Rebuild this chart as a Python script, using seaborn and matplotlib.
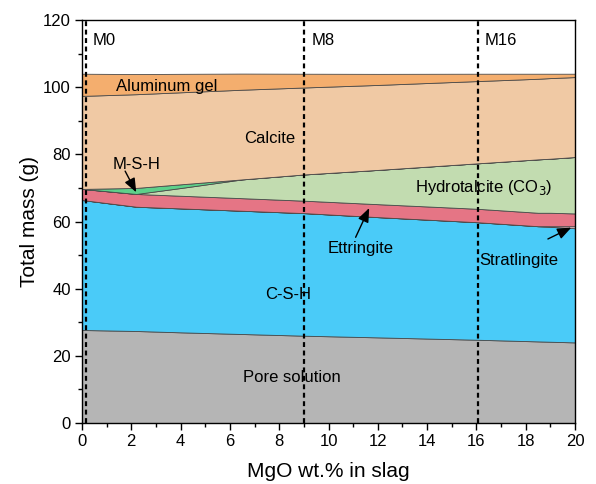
import matplotlib
matplotlib.use("Agg")
import matplotlib.pyplot as plt
import seaborn as sns
import numpy as np
from matplotlib.ticker import MultipleLocator

# ---- data ----
mgo = [0, 2.2, 4, 6.5, 9, 12, 16, 18.5, 19, 20]
pore_solution = [27.7, 27.4, 27.0, 26.5, 26.0, 25.5, 24.8, 24.3, 24.2, 24.0]
csh = [38.7, 37.0, 36.9, 36.7, 36.5, 35.8, 35.0, 34.3, 34.2, 34.0]
stratlingite = [0, 0, 0, 0, 0, 0, 0, 0, 0.2, 0.6]
ettringite = [3.3, 3.8, 3.77, 3.74, 3.7, 3.86, 4.0, 4.0, 4.0, 3.8]
hydrotalcite = [0, 0, 2.3, 5.6, 7.8, 10.2, 13.5, 15.9, 16.1, 16.8]
msh = [0, 1.8, 1.1, 0, 0, 0, 0, 0, 0, 0]
calcite = [27.7, 27.9, 27.4, 26.7, 25.9, 25.3, 24.5, 24.0, 24.0, 23.8]
aluminum_gel = [6.6, 6.0, 5.5, 4.8, 4.1, 3.3, 2.2, 1.5, 1.3, 1.0]

phase_names = ["Pore solution", "C-S-H", "Stratlingite", "Ettringite",
               "Hydrotalcite", "M-S-H", "Calcite", "Aluminum gel"]
colors = ["#b5b5b5", "#4acbf8", "#f3c6cc", "#e57585",
          "#c2dcb0", "#5ed08a", "#f0c9a4", "#f4ae6e"]
mix_names = ["M0", "M8", "M16"]
mix_x = [0.15, 9.0, 16.05]

sns.set_theme(style="ticks")
plt.rcParams["font.family"] = ["Liberation Sans", "DejaVu Sans"]
plt.rcParams["text.color"] = "black"

fig = plt.figure(figsize=(5.96, 4.84), dpi=100)
ax = fig.add_axes([0.1376, 0.126, 0.9648 - 0.1376, 0.9587 - 0.126])

ax.stackplot(mgo, pore_solution, csh, stratlingite, ettringite, hydrotalcite,
             msh, calcite, aluminum_gel, colors=colors, labels=phase_names,
             edgecolor="#4a4a4a", linewidth=0.6)

for name, xv in zip(mix_names, mix_x):
    ax.axvline(xv, color="black", lw=1.6, ls=(0, (2.2, 1.6)), zorder=5)
    ax.text(xv + 0.3, 114, name, fontsize=12, ha="left", va="center")

fs = 12
ax.text(3.45, 100.2, "Aluminum gel", fontsize=fs, ha="center", va="center")
ax.text(7.6, 84.6, "Calcite", fontsize=fs, ha="center", va="center")
ax.text(16.3, 70, "Hydrotalcite (CO$_3$)", fontsize=fs, ha="center", va="center")
ax.text(8.35, 38.4, "C-S-H", fontsize=fs, ha="center", va="center")
ax.text(8.5, 13.7, "Pore solution", fontsize=fs, ha="center", va="center")
ax.text(2.2, 77.0, "M-S-H", fontsize=fs, ha="center", va="center")
ax.text(11.3, 52.0, "Ettringite", fontsize=fs, ha="center", va="center")
ax.text(17.7, 48.5, "Stratlingite", fontsize=fs, ha="center", va="center")

arrowprops = dict(arrowstyle="-|>,head_length=0.7,head_width=0.28", color="black",
                  lw=1.0, shrinkA=0, shrinkB=0)
ax.annotate("", xy=(2.2, 68.7), xytext=(1.75, 75.0), arrowprops=arrowprops)
ax.annotate("", xy=(11.65, 64.0), xytext=(11.1, 55.3), arrowprops=arrowprops)
ax.annotate("", xy=(19.85, 58.2), xytext=(18.9, 54.8), arrowprops=arrowprops)

ax.set_xlim(0, 20)
ax.set_ylim(0, 120)
ax.xaxis.set_major_locator(MultipleLocator(2))
ax.xaxis.set_minor_locator(MultipleLocator(1))
ax.yaxis.set_major_locator(MultipleLocator(20))
ax.yaxis.set_minor_locator(MultipleLocator(10))
ax.tick_params(which="major", direction="out", length=5, width=1, labelsize=12,
               color="black", labelcolor="black", top=False, right=False,
               bottom=True, left=True, pad=3)
ax.tick_params(which="minor", direction="out", length=3, width=1, color="black",
               top=False, right=False, bottom=True, left=True)
for s in ax.spines.values():
    s.set_color("black")
    s.set_linewidth(1.0)
ax.set_xlabel("MgO wt.% in slag", fontsize=15, color="black", labelpad=9)
ax.set_ylabel("Total mass (g)", fontsize=15, color="black", labelpad=3)

fig.savefig("out.png", dpi=100)
